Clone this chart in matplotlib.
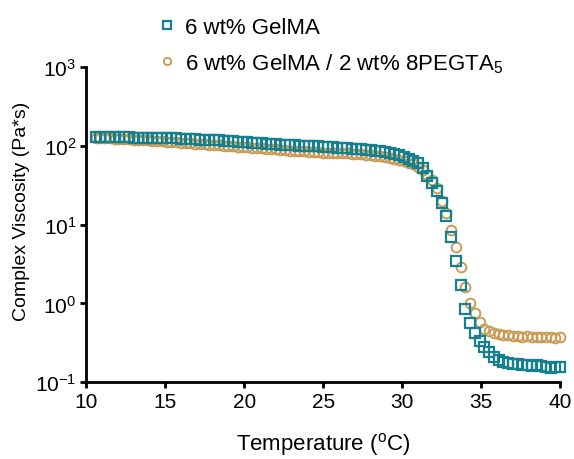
import numpy as np
import matplotlib
matplotlib.use("Agg")
import matplotlib.pyplot as plt
from matplotlib.ticker import LogLocator, NullLocator

plt.rcParams['font.family'] = ['Liberation Sans', 'DejaVu Sans']
plt.rcParams['mathtext.fontset'] = 'custom'
plt.rcParams['mathtext.rm'] = 'Liberation Sans'
plt.rcParams['mathtext.it'] = 'Liberation Sans'
plt.rcParams['mathtext.default'] = 'regular'

# temperature (C)
temp = [10.6, 10.9, 11.2, 11.5, 11.8, 12.1, 12.4, 12.7, 13.0, 13.3,
        13.6, 13.9, 14.2, 14.5, 14.8, 15.1, 15.4, 15.7, 16.0, 16.3,
        16.6, 16.9, 17.2, 17.5, 17.8, 18.1, 18.4, 18.7, 19.0, 19.3,
        19.6, 19.9, 20.2, 20.5, 20.8, 21.1, 21.4, 21.7, 22.0, 22.3,
        22.6, 22.9, 23.2, 23.5, 23.8, 24.1, 24.4, 24.7, 25.0, 25.3,
        25.6, 25.9, 26.2, 26.5, 26.8, 27.1, 27.4, 27.7, 28.0, 28.3,
        28.6, 28.9, 29.2, 29.5, 29.8, 30.1, 30.4, 30.7, 31.0, 31.3,
        31.6, 31.9, 32.2, 32.5, 32.8, 33.1, 33.4, 33.7, 34.0, 34.3,
        34.6, 34.9, 35.2, 35.5, 35.8, 36.1, 36.4, 36.7, 37.0, 37.3,
        37.6, 37.9, 38.2, 38.5, 38.8, 39.1, 39.4, 39.7, 40.0]

# 6 wt% GelMA
gelma = [129, 129, 129, 129, 128, 128, 128, 128, 127, 127,
         127, 126, 126, 126, 125, 125, 124, 124, 123, 122,
         122, 121, 120, 119, 118, 118, 117, 116, 115, 114,
         113, 112, 111, 110, 109, 108, 107, 106, 105, 104,
         103, 103, 102, 101, 100, 100, 99, 99, 98, 97,
         96, 95, 94, 93, 92, 91, 90, 89, 88, 86,
         85, 83, 81, 79, 76, 73, 69, 65, 60, 52,
         41, 34, 27, 19, 13, 7.0, 3.5, 1.7, 0.85, 0.56,
         0.42, 0.33, 0.28, 0.24, 0.21, 0.19, 0.18, 0.175, 0.17, 0.17,
         0.165, 0.165, 0.16, 0.165, 0.16, 0.155, 0.15, 0.155, 0.155]

# 6 wt% GelMA / 2 wt% 8PEGTA5
gelma_peg = [125, 125, 124, 124, 123, 123, 122, 121, 120, 119,
             118, 117, 116, 115, 114, 113, 112, 111, 110, 109,
             108, 107, 106, 105, 104, 103, 102, 101, 100, 99,
             98, 97, 96, 95, 94, 93, 92, 91, 90, 89,
             88, 87, 86, 86, 85, 84, 84, 83, 82, 82,
             81, 81, 80, 80, 79, 78, 78, 77, 76, 75,
             74, 72, 71, 69, 67, 64, 61, 58, 54, 49,
             43, 37, 29, 20, 14, 8.5, 5.2, 2.9, 1.6, 1.0,
             0.75, 0.58, 0.48, 0.44, 0.42, 0.41, 0.40, 0.40, 0.39, 0.39,
             0.38, 0.39, 0.38, 0.38, 0.37, 0.38, 0.37, 0.36, 0.37]

teal = '#17808f'
tan = '#c99b57'

fig = plt.figure(figsize=(5.74, 4.6), dpi=100)
ax = fig.add_axes([0.150, 0.167, 0.826, 0.685])

ax.plot(temp, gelma_peg, 'o', ms=7, mfc='none', mec=tan, mew=1.4,
        clip_on=False, label='6 wt% GelMA / 2 wt% 8PEGTA$_5$', zorder=2)
ax.plot(temp, gelma, 's', ms=7, mfc='none', mec=teal, mew=1.6,
        clip_on=False, label='6 wt% GelMA', zorder=3)

ax.set_yscale('log')
ax.set_xlim(10, 40)
ax.set_ylim(0.1, 1000)
ax.set_xticks([10, 15, 20, 25, 30, 35, 40])
ax.yaxis.set_major_locator(LogLocator(base=10, numticks=10))
ax.yaxis.set_minor_locator(NullLocator())

for s in ['top', 'right']:
    ax.spines[s].set_visible(False)
for s in ['left', 'bottom']:
    ax.spines[s].set_linewidth(2)
ax.tick_params(width=2, length=4, labelsize=15, direction='out', pad=3)

ax.set_xlabel('Temperature ($^{o}$C)', fontsize=16, labelpad=14)
ax.set_ylabel('Complex Viscosity (Pa*s)', fontsize=14)
ax.yaxis.set_label_coords(-0.118, 0.546)

h, l = ax.get_legend_handles_labels()
fig.legend(h[::-1], l[::-1], loc='upper left', bbox_to_anchor=(0.236, 1.005),
           frameon=False, fontsize=16, handletextpad=0.35, handlelength=1.0,
           labelspacing=0.6, markerscale=0.75)

fig.savefig('out.png', dpi=100)
